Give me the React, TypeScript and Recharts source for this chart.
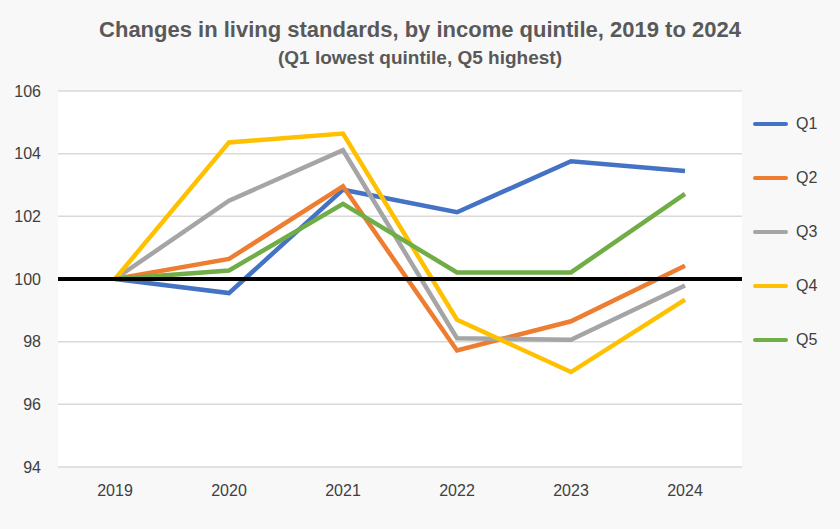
import React from "react";
import {
  LineChart,
  Line,
  XAxis,
  YAxis,
  CartesianGrid,
  ReferenceLine,
} from "recharts";

const years = ["2019", "2020", "2021", "2022", "2023", "2024"];
const q1 = [100, 99.55, 102.85, 102.13, 103.76, 103.45];
const q2 = [100, 100.64, 102.96, 97.72, 98.65, 100.42];
const q3 = [100, 102.5, 104.11, 98.11, 98.06, 99.79];
const q4 = [100, 104.36, 104.64, 98.7, 97.03, 99.34];
const q5 = [100, 100.27, 102.4, 100.21, 100.21, 102.72];
const yTicks = [94, 96, 98, 100, 102, 104, 106];

const series = [
  { key: "Q1", values: q1, color: "#4472C4" },
  { key: "Q2", values: q2, color: "#ED7D31" },
  { key: "Q3", values: q3, color: "#A5A5A5" },
  { key: "Q4", values: q4, color: "#FFC000" },
  { key: "Q5", values: q5, color: "#70AD47" },
];

const data = years.map((year, i) => {
  const row: Record<string, string | number> = { year };
  series.forEach((s) => {
    row[s.key] = s.values[i];
  });
  return row;
});

const font = "'Liberation Sans', Arial, sans-serif";

// legend sits outside the chart so it doesn't shrink the plot area
const LegendBox = () => (
  <div style={{ position: "absolute", left: 753, top: 97 }}>
    {series.map((s) => (
      <div
        key={s.key}
        style={{ display: "flex", alignItems: "center", height: 54 }}
      >
        <div
          style={{
            width: 35,
            height: 4,
            borderRadius: 2,
            background: s.color,
            marginRight: 8,
          }}
        />
        <span style={{ fontFamily: font, fontSize: 16, color: "#404040" }}>
          {s.key}
        </span>
      </div>
    ))}
  </div>
);

export default function App() {
  return (
    <div
      style={{
        position: "absolute",
        left: 0,
        top: 0,
        width: 840,
        height: 529,
        background: "#f8f8f8",
      }}
    >
      <div
        style={{
          position: "absolute",
          top: 17,
          width: 840,
          textAlign: "center",
          fontFamily: font,
          fontWeight: "bold",
          fontSize: 22,
          color: "#595959",
        }}
      >
        Changes in living standards, by income quintile, 2019 to 2024
      </div>
      <div
        style={{
          position: "absolute",
          top: 47,
          width: 840,
          textAlign: "center",
          fontFamily: font,
          fontWeight: "bold",
          fontSize: 19,
          color: "#595959",
        }}
      >
        (Q1 lowest quintile, Q5 highest)
      </div>
      <LineChart
        width={840}
        height={529}
        data={data}
        margin={{ top: 91, right: 98, bottom: 32, left: 0 }}
        style={{ position: "absolute", left: 0, top: 0 }}
      >
        <CartesianGrid
          vertical={false}
          stroke="#d9d9d9"
          strokeWidth={1.5}
          fill="#ffffff"
          fillOpacity={1}
        />
        <XAxis
          dataKey="year"
          axisLine={false}
          tickLine={false}
          tickSize={0}
          tickMargin={18}
          height={30}
          padding={{ left: 57, right: 57 }}
          tick={{ fontFamily: font, fontSize: 16, fill: "#404040" }}
        />
        <YAxis
          domain={[94, 106]}
          ticks={yTicks}
          axisLine={false}
          tickLine={false}
          tickSize={0}
          tickMargin={17}
          width={58}
          tick={{ fontFamily: font, fontSize: 16, fill: "#404040" }}
        />
        {series.map((s) => (
          <Line
            key={s.key}
            dataKey={s.key}
            stroke={s.color}
            strokeWidth={4.5}
            dot={false}
            isAnimationActive={false}
          />
        ))}
        <ReferenceLine y={100} stroke="#000000" strokeWidth={4} />
      </LineChart>
      <LegendBox />
    </div>
  );
}
